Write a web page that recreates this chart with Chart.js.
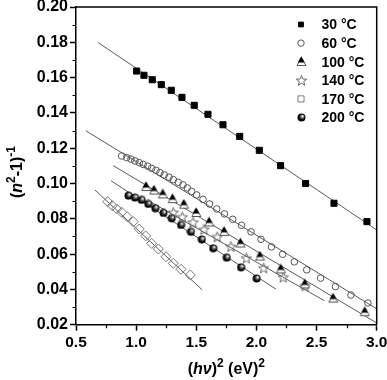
<!DOCTYPE html>
<html><head><meta charset="utf-8">
<script src="https://cdn.jsdelivr.net/npm/chart.js@4/dist/chart.umd.min.js"></script>
<style>html,body{margin:0;padding:0;background:#fff;} #wrap{width:387px;height:380px;}</style>
</head><body><div id="wrap"><canvas id="c" width="387" height="380"></canvas></div>
<script>
const SERIES_LABELS = ['30 °C', '60 °C', '100 °C', '140 °C', '170 °C', '200 °C'];

const X30 = [1.004, 1.065, 1.134, 1.209, 1.292, 1.381, 1.483, 1.597, 1.722, 1.861, 2.024, 2.201, 2.409, 2.645, 2.919];
const Y30 = [0.1637, 0.1613, 0.1588, 0.1560, 0.1528, 0.1488, 0.1443, 0.1392, 0.1333, 0.1267, 0.1188, 0.1101, 0.1000, 0.0888, 0.0784];

const X60 = [0.880, 0.921, 0.957, 0.990, 1.026, 1.059, 1.096, 1.129, 1.165, 1.198, 1.234, 1.273, 1.309, 1.350, 1.389, 1.425, 1.462, 1.503, 1.556, 1.610, 1.670, 1.734, 1.803, 1.876, 1.955, 2.038, 2.125, 2.218, 2.315, 2.418, 2.534, 2.657, 2.786, 2.927];
const Y60 = [0.1156, 0.1147, 0.1138, 0.1128, 0.1118, 0.1108, 0.1098, 0.1086, 0.1075, 0.1062, 0.1049, 0.1036, 0.1022, 0.1007, 0.0992, 0.0975, 0.0955, 0.0935, 0.0910, 0.0884, 0.0856, 0.0828, 0.0797, 0.0763, 0.0726, 0.0684, 0.0641, 0.0599, 0.0556, 0.0511, 0.0464, 0.0416, 0.0368, 0.0323];

const X100 = [1.084, 1.150, 1.223, 1.304, 1.398, 1.500, 1.608, 1.733, 1.869, 2.030, 2.204, 2.404, 2.639, 2.902];
const Y100 = [0.0983, 0.0963, 0.0941, 0.0914, 0.0883, 0.0836, 0.0782, 0.0729, 0.0663, 0.0589, 0.0516, 0.0431, 0.0351, 0.0274];

const X140 = [1.309, 1.384, 1.473, 1.564, 1.674, 1.788, 1.916, 2.060, 2.223, 2.404];
const Y140 = [0.0835, 0.0810, 0.0780, 0.0739, 0.0697, 0.0642, 0.0577, 0.0521, 0.0469, 0.0419];

const X170 = [0.764, 0.802, 0.838, 0.880, 0.926, 0.976, 1.026, 1.079, 1.129, 1.184, 1.248, 1.309, 1.373, 1.450];
const Y170 = [0.0897, 0.0874, 0.0856, 0.0837, 0.0812, 0.0784, 0.0742, 0.0703, 0.0661, 0.0629, 0.0585, 0.0548, 0.0514, 0.0482];

const X200 = [0.936, 0.990, 1.046, 1.101, 1.159, 1.227, 1.296, 1.373, 1.456, 1.546, 1.641, 1.753, 1.872, 2.002];
const Y200 = [0.0931, 0.0920, 0.0907, 0.0884, 0.0860, 0.0833, 0.0803, 0.0765, 0.0726, 0.0683, 0.0633, 0.0580, 0.0525, 0.0462];

// fitted straight lines: start and end points
const FIT30_X = [0.685, 3.0];  const FIT30_Y = [0.1798, 0.0737];
const FIT60_X = [0.581, 3.0];  const FIT60_Y = [0.1299, 0.0290];
const FIT100_X = [0.810, 3.0]; const FIT100_Y = [0.1101, 0.0210];
const FIT140_X = [1.129, 2.565]; const FIT140_Y = [0.0892, 0.0336];
const FIT170_X = [0.658, 1.550]; const FIT170_Y = [0.0963, 0.0397];
const FIT200_X = [0.791, 2.163]; const FIT200_Y = [0.1016, 0.0401];

const X_TICK_VALUES = [0.5, 1.0, 1.5, 2.0, 2.5, 3.0];
const X_TICK_LABELS = ['0.5', '1.0', '1.5', '2.0', '2.5', '3.0'];
const Y_TICK_VALUES = [0.02, 0.04, 0.06, 0.08, 0.10, 0.12, 0.14, 0.16, 0.18, 0.20];
const Y_TICK_LABELS = ['0.02', '0.04', '0.06', '0.08', '0.10', '0.12', '0.14', '0.16', '0.18', '0.20'];
const X_MINOR = [0.75, 1.25, 1.75, 2.25, 2.75];
const Y_MINOR = [0.03, 0.05, 0.07, 0.09, 0.11, 0.13, 0.15, 0.17, 0.19];

const pts = (xs, ys) => xs.map((x, i) => ({x: x, y: ys[i]}));

function mk(size, fn) {
  const c = document.createElement('canvas');
  c.width = size; c.height = size;
  fn(c.getContext('2d'), size);
  return c;
}
const triImg = mk(11, (g) => {
  g.beginPath(); g.moveTo(5.5, 1.5); g.lineTo(10, 9.5); g.lineTo(1, 9.5); g.closePath();
  g.fillStyle = '#fff'; g.fill();
  g.strokeStyle = '#555'; g.lineWidth = 1; g.stroke();
  g.beginPath(); g.moveTo(5.2, 0.3); g.lineTo(8.6, 6.6); g.lineTo(1.8, 6.6); g.closePath();
  g.fillStyle = '#000'; g.fill();
});
const starImg = mk(13, (g) => {
  g.beginPath();
  for (let i = 0; i < 10; i++) {
    const r = i % 2 === 0 ? 5.5 : 2.3;
    const a = -Math.PI / 2 + i * Math.PI / 5;
    const px = 6.5 + r * Math.cos(a), py = 6.9 + r * Math.sin(a);
    if (i === 0) g.moveTo(px, py); else g.lineTo(px, py);
  }
  g.closePath(); g.strokeStyle = '#666'; g.lineWidth = 1; g.stroke();
});
const ballImg = mk(9, (g) => {
  const gr = g.createRadialGradient(5.8, 3.0, 0.3, 4.5, 4.5, 4.3);
  gr.addColorStop(0, '#fff'); gr.addColorStop(0.3, '#777'); gr.addColorStop(0.6, '#111'); gr.addColorStop(1, '#000');
  g.beginPath(); g.arc(4.5, 4.5, 4, 0, Math.PI * 2); g.fillStyle = gr; g.fill();
});

const MARKERS = [
  {pointStyle: 'rect', radius: 4.3, backgroundColor: '#000', borderColor: '#000', borderWidth: 1, lr: 3.4},
  {pointStyle: 'circle', radius: 3.3, backgroundColor: 'rgba(0,0,0,0)', borderColor: '#555', borderWidth: 1, lr: 3.2},
  {pointStyle: triImg, radius: 5, backgroundColor: '#000', borderColor: '#000', borderWidth: 1},
  {pointStyle: starImg, radius: 5, backgroundColor: 'rgba(0,0,0,0)', borderColor: '#666', borderWidth: 1},
  {pointStyle: 'rectRot', radius: 5, backgroundColor: 'rgba(0,0,0,0)', borderColor: '#777', borderWidth: 1, legendStyle: 'rect', lr: 4.3},
  {pointStyle: ballImg, radius: 4.5, backgroundColor: '#000', borderColor: '#000', borderWidth: 1}
];

const SERIES = [pts(X30, Y30), pts(X60, Y60), pts(X100, Y100), pts(X140, Y140), pts(X170, Y170), pts(X200, Y200)];
const FITS = [pts(FIT30_X, FIT30_Y), pts(FIT60_X, FIT60_Y), pts(FIT100_X, FIT100_Y), pts(FIT140_X, FIT140_Y), pts(FIT170_X, FIT170_Y), pts(FIT200_X, FIT200_Y)];

const datasets = [];
SERIES.forEach((d, i) => {
  const m = MARKERS[i];
  datasets.push({label: SERIES_LABELS[i], data: d, showLine: false, order: 0,
    pointStyle: m.pointStyle, pointRadius: m.radius, pointBackgroundColor: m.backgroundColor,
    pointBorderColor: m.borderColor, pointBorderWidth: m.borderWidth, pointHoverRadius: m.radius});
});
FITS.forEach((d, i) => {
  datasets.push({label: 'fit ' + SERIES_LABELS[i], data: d, showLine: true, order: 1,
    pointRadius: 0, borderColor: '#5a5a5a', borderWidth: 1, fill: false});
});

const FONT = 'Liberation Sans, Arial, sans-serif';

function drawMarker(ctx, m, x, y) {
  const st = m.legendStyle || m.pointStyle;
  if (typeof st !== 'string') { ctx.drawImage(st, Math.round(x - st.width / 2), Math.round(y - st.height / 2)); return; }
  const r = m.lr || m.radius;
  ctx.save();
  ctx.fillStyle = m.backgroundColor; ctx.strokeStyle = m.borderColor; ctx.lineWidth = m.borderWidth;
  ctx.beginPath();
  if (st === 'rect') { const s = Math.SQRT1_2 * r; ctx.rect(x - s, y - s, 2 * s, 2 * s); }
  else if (st === 'circle') { ctx.arc(x, y, r, 0, Math.PI * 2); }
  ctx.fill(); ctx.stroke();
  ctx.restore();
}

function drawRich(ctx, segs, x, y, align) {
  let w = 0;
  segs.forEach(s => { ctx.font = s.f; w += ctx.measureText(s.t).width; });
  let cx = align === 'center' ? x - w / 2 : x;
  segs.forEach(s => { ctx.font = s.f; ctx.fillText(s.t, cx, y + (s.dy || 0)); cx += ctx.measureText(s.t).width; });
}

const extras = {
  id: 'extras',
  afterDraw(chart) {
    const ctx = chart.ctx, a = chart.chartArea, xs = chart.scales.x, ys = chart.scales.y;
    ctx.save();
    // frame top and right
    ctx.strokeStyle = '#000'; ctx.lineWidth = 1.5;
    ctx.beginPath();
    ctx.moveTo(a.left, a.top); ctx.lineTo(a.right, a.top); ctx.lineTo(a.right, a.bottom);
    ctx.stroke();
    // minor ticks
    ctx.lineWidth = 1.2;
    ctx.beginPath();
    X_MINOR.forEach(v => { const px = Math.round(xs.getPixelForValue(v)) + 0.5; ctx.moveTo(px, a.bottom); ctx.lineTo(px, a.bottom + 3.5); });
    Y_MINOR.forEach(v => { const py = Math.round(ys.getPixelForValue(v)) + 0.5; ctx.moveTo(a.left, py); ctx.lineTo(a.left - 3.5, py); });
    ctx.stroke();
    // legend
    ctx.fillStyle = '#000'; ctx.textBaseline = 'middle'; ctx.textAlign = 'left';
    ctx.font = 'bold 14px ' + FONT;
    SERIES_LABELS.forEach((lab, i) => {
      const y = 24.5 + i * 18.6;
      drawMarker(ctx, MARKERS[i], 301, y);
      ctx.fillStyle = '#000';
      ctx.font = 'bold 14px ' + FONT;
      ctx.fillText(lab, 321.5, y + 1);
    });
    // axis titles
    ctx.textBaseline = 'alphabetic';
    const B = 'bold 16px ' + FONT, I = 'italic bold 16px ' + FONT, S = 'bold 12px ' + FONT;
    drawRich(ctx, [{t: '(', f: B}, {t: 'hν', f: I}, {t: ')', f: B}, {t: '2', f: S, dy: -7}, {t: ' (eV)', f: B}, {t: '2', f: S, dy: -7}], (a.left + a.right) / 2, 374, 'center');
    ctx.translate(22, 172);
    ctx.rotate(-Math.PI / 2);
    drawRich(ctx, [{t: '(', f: B}, {t: 'n', f: I}, {t: '2', f: S, dy: -7}, {t: '-1)', f: B}, {t: '-1', f: S, dy: -7}], 0, 0, 'center');
    ctx.restore();
  }
};

new Chart(document.getElementById('c'), {
  type: 'scatter',
  data: {datasets: datasets},
  options: {
    responsive: false, animation: false, devicePixelRatio: 1,
    layout: {padding: {left: 30, right: 10.3, top: 7, bottom: 29.3}},
    plugins: {legend: {display: false}, tooltip: {enabled: false}},
    scales: {
      x: {
        type: 'linear', min: 0.5, max: 3.0,
        afterBuildTicks: s => { s.ticks = X_TICK_VALUES.map(v => ({value: v})); },
        afterFit: s => { s.height = 26; s.paddingLeft = 0; s.paddingRight = 0; },
        ticks: {callback: (v, i) => X_TICK_LABELS[i], color: '#000', maxRotation: 0, padding: 3,
          font: {family: FONT, weight: 'bold', size: 15.5}},
        grid: {drawOnChartArea: false, drawTicks: true, tickLength: 6, tickWidth: 1.5, tickColor: '#000'},
        border: {display: true, color: '#000', width: 1.5}
      },
      y: {
        type: 'linear', min: 0.02, max: 0.20,
        afterBuildTicks: s => { s.ticks = Y_TICK_VALUES.map(v => ({value: v})); },
        afterFit: s => { s.width = 46; s.paddingTop = 0; s.paddingBottom = 0; },
        ticks: {callback: (v, i) => Y_TICK_LABELS[i], color: '#000', padding: 2,
          font: {family: FONT, weight: 'bold', size: 16}},
        grid: {drawOnChartArea: false, drawTicks: true, tickLength: 6, tickWidth: 1.5, tickColor: '#000'},
        border: {display: true, color: '#000', width: 1.5}
      }
    }
  },
  plugins: [extras]
});
</script>
</body></html>
